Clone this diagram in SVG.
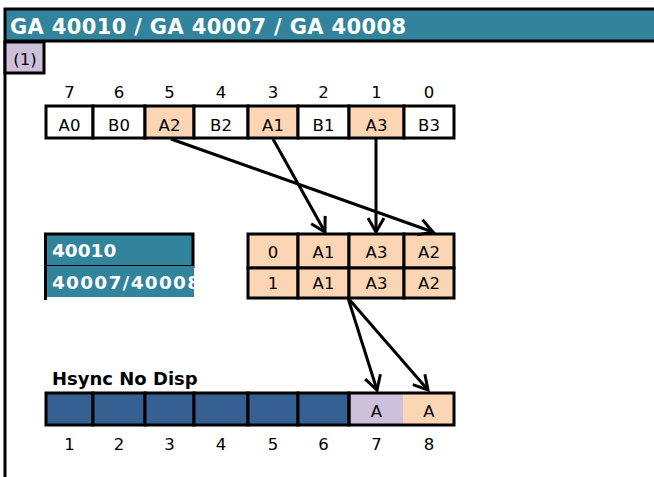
<svg xmlns="http://www.w3.org/2000/svg" width="654" height="477" viewBox="0 0 654 477">
<defs>
<style>
.bd{stroke:#000;stroke-width:3}
.w{fill:#fff}
.pe{fill:#fcd5b4}
.bl{fill:#366092}
.lv{fill:#ccc0da}
.tl{fill:#31849b}
.t{font-family:"DejaVu Sans",Verdana,sans-serif;font-size:16.5px;fill:#000;text-anchor:middle}
.tb{font-family:"DejaVu Sans",Verdana,sans-serif;font-weight:bold;fill:#fff}
.ln{stroke:#000;stroke-width:3;fill:none}
.cn{stroke:#000;stroke-width:3;fill:none;marker-end:url(#ah)}
</style>
<marker id="ah" markerUnits="userSpaceOnUse" markerWidth="40" markerHeight="40" viewBox="-20 -20 40 40" refX="0" refY="0" orient="auto" overflow="visible">
<path d="M-14,-8 L0,0 L-14,8" fill="none" stroke="#000" stroke-width="3"/>
</marker>
<clipPath id="c2"><rect x="44" y="266" width="150" height="32"/></clipPath>
</defs>
<rect width="654" height="477" fill="#fff"/>

<g id="title">
<rect x="5" y="9" width="660" height="32" class="tl bd"/>
<text x="10" y="34" class="tb" font-size="21" textLength="396" lengthAdjust="spacing">GA 40010 / GA 40007 / GA 40008</text>
</g>
<line x1="5" y1="41" x2="5" y2="477" class="ln"/>
<g id="tag1">
<rect x="5" y="42" width="39" height="31" class="lv bd"/>
<text x="25" y="65" class="t">(1)</text>
</g>

<g id="register">
<rect x="46" y="106" width="47" height="32" class="w bd"/>
<rect x="93" y="106" width="52" height="32" class="w bd"/>
<rect x="145" y="106" width="49" height="32" class="pe bd"/>
<rect x="194" y="106" width="54" height="32" class="w bd"/>
<rect x="248" y="106" width="50" height="32" class="pe bd"/>
<rect x="298" y="106" width="51" height="32" class="w bd"/>
<rect x="349" y="106" width="55" height="32" class="pe bd"/>
<rect x="404" y="106" width="50" height="32" class="w bd"/>
<text x="69.5" y="98" class="t">7</text>
<text x="119" y="98" class="t">6</text>
<text x="169.5" y="98" class="t">5</text>
<text x="221" y="98" class="t">4</text>
<text x="273" y="98" class="t">3</text>
<text x="323.5" y="98" class="t">2</text>
<text x="376.5" y="98" class="t">1</text>
<text x="429" y="98" class="t">0</text>
<text x="69.5" y="131" class="t">A0</text>
<text x="119" y="131" class="t">B0</text>
<text x="169.5" y="131" class="t">A2</text>
<text x="221" y="131" class="t">B2</text>
<text x="273" y="131" class="t">A1</text>
<text x="323.5" y="131" class="t">B1</text>
<text x="376.5" y="131" class="t">A3</text>
<text x="429" y="131" class="t">B3</text>
</g>

<g id="label40010">
<rect x="45.5" y="234" width="147.5" height="32.5" class="tl bd"/>
<text x="52" y="257" class="tb" font-size="18.5">40010</text>
</g>
<g id="label40007">
<rect x="45.5" y="266" width="148.5" height="31" class="tl"/>
<line x1="45.5" y1="266" x2="45.5" y2="300" class="ln"/>
<text x="52" y="289" class="tb" font-size="18.5" clip-path="url(#c2)" textLength="148" lengthAdjust="spacing">40007/40008</text>
</g>

<g id="table">
<rect x="248" y="234" width="50" height="34" class="pe bd"/>
<rect x="298" y="234" width="51" height="34" class="pe bd"/>
<rect x="349" y="234" width="55" height="34" class="pe bd"/>
<rect x="404" y="234" width="50" height="34" class="pe bd"/>
<rect x="248" y="268" width="50" height="30" class="pe bd"/>
<rect x="298" y="268" width="51" height="30" class="pe bd"/>
<rect x="349" y="268" width="55" height="30" class="pe bd"/>
<rect x="404" y="268" width="50" height="30" class="pe bd"/>
<text x="273" y="258" class="t">0</text>
<text x="323.5" y="258" class="t">A1</text>
<text x="376.5" y="258" class="t">A3</text>
<text x="429" y="258" class="t">A2</text>
<text x="273" y="289" class="t">1</text>
<text x="323.5" y="289" class="t">A1</text>
<text x="376.5" y="289" class="t">A3</text>
<text x="429" y="289" class="t">A2</text>
</g>

<g id="hsync">
<text x="52" y="385" font-family="'DejaVu Sans',Verdana,sans-serif" font-weight="bold" font-size="18" fill="#000">Hsync No Disp</text>
<rect x="349" y="393" width="105" height="32" class="lv"/>
<rect x="403" y="393" width="51" height="32" class="pe"/>
<rect x="46" y="393" width="47" height="32" class="bl bd"/>
<rect x="93" y="393" width="52" height="32" class="bl bd"/>
<rect x="145" y="393" width="49" height="32" class="bl bd"/>
<rect x="194" y="393" width="54" height="32" class="bl bd"/>
<rect x="248" y="393" width="50" height="32" class="bl bd"/>
<rect x="298" y="393" width="51" height="32" class="bl bd"/>
<rect x="349" y="393" width="105" height="32" fill="none" class="bd"/>
<text x="376.5" y="417" class="t">A</text>
<text x="429" y="417" class="t">A</text>
<text x="69.5" y="450" class="t">1</text>
<text x="119" y="450" class="t">2</text>
<text x="169.5" y="450" class="t">3</text>
<text x="221" y="450" class="t">4</text>
<text x="273" y="450" class="t">5</text>
<text x="323.5" y="450" class="t">6</text>
<text x="376.5" y="450" class="t">7</text>
<text x="429" y="450" class="t">8</text>
</g>

<g id="connectors">
<path d="M171,139 L433,232" class="cn"/>
<path d="M273,139 L325,232" class="cn"/>
<path d="M376,139 L376,232" class="cn"/>
<path d="M348,298 L377,390" class="cn"/>
<path d="M348,298 L428,390" class="cn"/>
</g>
</svg>
